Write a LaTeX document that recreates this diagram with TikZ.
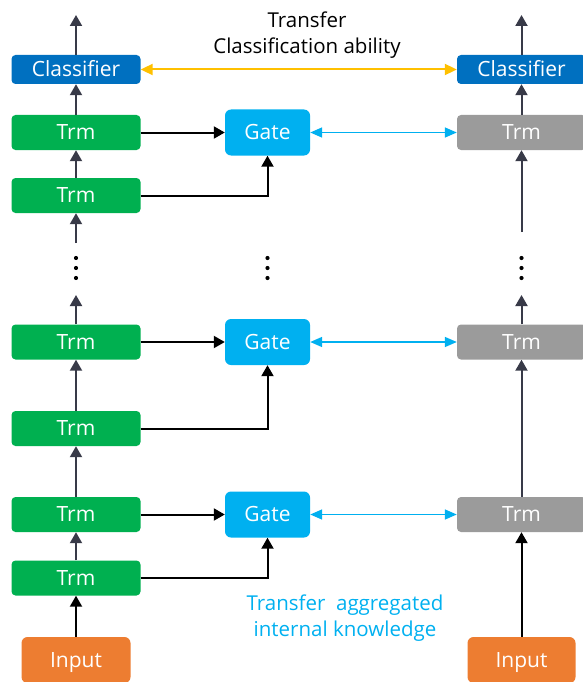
\documentclass[tikz,border=0pt]{standalone}
\usepackage{fontspec}
\setmainfont{Open Sans}
\usetikzlibrary{arrows.meta}
\definecolor{clsblue}{HTML}{0070C0}
\definecolor{trmgreen}{HTML}{00B050}
\definecolor{gateblue}{HTML}{00B0F0}
\definecolor{trmgray}{HTML}{9B9B9B}
\definecolor{inorange}{HTML}{ED7D31}
\definecolor{arrgray}{HTML}{383A48}
\definecolor{transyellow}{HTML}{FFC000}
\begin{document}
\begin{tikzpicture}[x=1pt,y=-1pt,
  lbl/.style={font=\fontsize{20.5}{26}\selectfont, inner sep=0pt},
  box/.style={rounded corners=4pt, minimum width=129pt, minimum height=35pt, inner sep=0pt,
    text=white, text height=14.8pt, text depth=0pt, font=\fontsize{21}{24}\selectfont},
  trm/.style={box, fill=trmgreen},
  trmg/.style={box, fill=trmgray},
  cls/.style={box, fill=clsblue, minimum height=29pt},
  gate/.style={box, fill=gateblue, minimum width=85pt, minimum height=46pt, rounded corners=6pt},
  inp/.style={box, fill=inorange, minimum width=109pt, minimum height=46pt, rounded corners=6pt},
  garr/.style={draw=arrgray, line width=2pt, -{Triangle[length=11pt,width=12pt]}},
  barr/.style={draw=black, line width=2pt, -{Triangle[length=11pt,width=12pt]}},
  blarr/.style={draw=gateblue, line width=1.6pt, {Triangle[length=12pt,width=10pt]}-{Triangle[length=12pt,width=10pt]}},
  yarr/.style={draw=transyellow, line width=2pt, {Triangle[length=12pt,width=11pt]}-{Triangle[length=12pt,width=11pt]}},
  dot/.style={fill=black}
]
\useasboundingbox (0,0) rectangle (582,682);

% left column
\node[cls] (lcls) at (76,69.5) {Classifier};
\node[trm] (lt1) at (76,132.5) {Trm};
\node[trm] (lt2) at (76,195.5) {Trm};
\node[trm] (lt3) at (76,342) {Trm};
\node[trm] (lt4) at (76,428.5) {Trm};
\node[trm] (lt5) at (76,514.5) {Trm};
\node[trm] (lt6) at (76,578) {Trm};
\node[inp] (linput) at (76,660) {Input};

% gates
\node[gate] (g1) at (267.5,132.5) {Gate};
\node[gate] (g2) at (267.5,342) {Gate};
\node[gate] (g3) at (267.5,514.5) {Gate};

% right column
\node[cls] (rcls) at (521.5,69.5) {Classifier};
\node[trmg] (rt1) at (521.5,132.5) {Trm};
\node[trmg] (rt2) at (521.5,342) {Trm};
\node[trmg] (rt3) at (521.5,514.5) {Trm};
\node[inp, minimum width=108pt] (rinput) at (521.5,660) {Input};

% dots
\foreach \x in {76,267.5,521.5}{
  \foreach \y in {258,268,278}{
    \fill[dot] (\x,\y) circle (2.1pt);
  }
}

% coordinates
\coordinate (ltop) at (76,15);
\coordinate (lgapb) at (76,243);
\coordinate (lgapt) at (76,295);
\coordinate (rtop) at (521.5,15);
\coordinate (rgapb) at (521.5,232);
\coordinate (rgapt) at (521.5,295);

% left arrows
\draw[garr] (lcls.north) -- (ltop);
\draw[garr] (lt1) -- (lcls);
\draw[garr] (lt2) -- (lt1);
\draw[garr] (lgapb) -- (lt2.south);
\draw[garr] (lt3.north) -- (lgapt);
\draw[garr] (lt4) -- (lt3);
\draw[garr] (lt5) -- (lt4);
\draw[garr] (lt6) -- (lt5);
\draw[barr] (linput) -- (lt6);

% to gates
\draw[barr] (lt1.east) -- (g1.west);
\draw[barr] (lt2.east) -| (g1.south);
\draw[barr] (lt3.east) -- (g2.west);
\draw[barr] (lt4.east) -| (g2.south);
\draw[barr] (lt5.east) -- (g3.west);
\draw[barr] (lt6.east) -| (g3.south);

% gates to right
\draw[blarr] (g1.east) -- (rt1.west);
\draw[blarr] (g2.east) -- (rt2.west);
\draw[blarr] (g3.east) -- (rt3.west);

% classifier transfer
\draw[yarr] (lcls.east) -- (rcls.west);

% right arrows
\draw[garr] (rcls.north) -- (rtop);
\draw[garr] (rt1) -- (rcls);
\draw[garr] (rgapb) -- (rt1.south);
\draw[garr] (rt2.north) -- (rgapt);
\draw[garr] (rt3) -- (rt2);
\draw[barr] (rinput) -- (rt3);

% labels
\node[lbl, align=center] (title) at (307,35) {Transfer\\Classification ability};
\node[lbl, align=center, text=gateblue] (note) at (345,618) {Transfer\ \ aggregated\\internal knowledge};
\end{tikzpicture}
\end{document}
